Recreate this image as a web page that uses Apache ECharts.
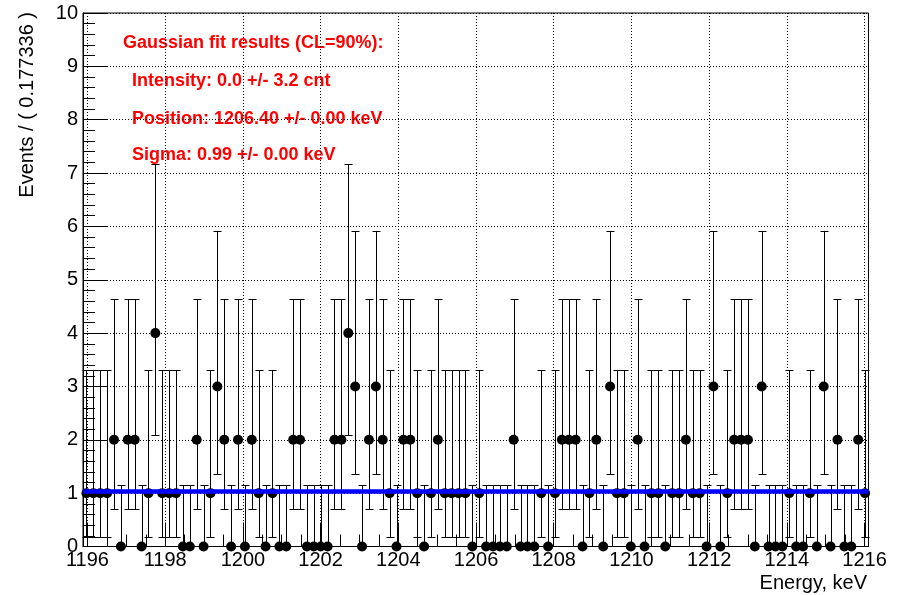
<!DOCTYPE html>
<html>
<head>
<meta charset="utf-8">
<script src="https://cdn.jsdelivr.net/npm/echarts@6/dist/echarts.min.js"></script>
<style>
  html, body { margin: 0; padding: 0; background: #fff; }
  #chart { width: 905px; height: 595px; }
</style>
</head>
<body>
<div id="chart"></div>
<script>
// ---- data ----
const xMin = 1195.885;
const binWidth = 0.177336;
const nBins = 114;
const xMax = xMin + nBins * binWidth;

// counts per bin
const counts = [
  1,1,1,1,2,0,2,2,0,1,
  4,1,1,1,0,0,2,0,1,3,
  2,0,2,0,2,1,0,1,0,0,
  2,2,0,0,0,0,2,2,4,3,
  0,2,3,2,1,0,2,2,1,0,
  1,2,1,1,1,1,0,1,0,0,
  0,0,2,0,0,0,1,0,1,2,
  2,2,0,1,2,0,3,1,1,0,
  2,0,1,1,0,1,1,2,1,1,
  0,3,0,1,2,2,2,0,3,0,
  0,0,1,0,0,1,0,3,0,2,
  0,0,2,1
];

// Poisson (68%) error interval for each count value
const poissonLow  = [0, 0.173, 0.708, 1.367, 2.086];
const poissonHigh = [1.148, 3.300, 4.638, 5.918, 7.163];

// fit curve (flat, intensity 0)
const fitLevel = 1.03;

// axis ticks
const xTickValues = [1196, 1198, 1200, 1202, 1204, 1206, 1208, 1210, 1212, 1214, 1216];
const yTickLabels = ['0','1','2','3','4','5','6','7','8','9','10'];

const infoTitle = 'Gaussian fit results (CL=90%):';
const infoLines = [
  'Intensity: 0.0 +/- 3.2 cnt',
  'Position: 1206.40 +/- 0.00 keV',
  'Sigma: 0.99 +/- 0.00 keV'
];
const xTitle = 'Energy, keV';
const yTitle = 'Events / ( 0.177336 )';

// ---- build ----
const binCenters = counts.map((c, i) => xMin + (i + 0.5) * binWidth);
const points = counts.map((c, i) => [binCenters[i], c]);
const errors = counts.map((c, i) => [binCenters[i], poissonLow[c], poissonHigh[c]]);
const xMinorTicks = [];
for (let v = 1196; v <= 1216.0001; v += 0.5) xMinorTicks.push(Math.round(v * 10) / 10);

const FONT = '"Liberation Sans", Arial, Helvetica, sans-serif';

const chart = echarts.init(document.getElementById('chart'), null, { renderer: 'canvas' });

chart.setOption({
  animation: false,
  backgroundColor: '#ffffff',
  grid: {
    left: 83, top: 13, width: 785.5, height: 533.5,
    show: true, borderColor: '#000', borderWidth: 1, backgroundColor: 'transparent'
  },
  xAxis: [
    {
      type: 'value', min: xMin, max: xMax,
      axisLine: { show: true, onZero: false, lineStyle: { color: '#000', width: 1 } },
      axisTick: { show: true, inside: true, length: 24, customValues: xTickValues,
                  lineStyle: { color: '#000', width: 1 } },
      axisLabel: { show: true, customValues: xTickValues, fontSize: 20, color: '#000',
                   margin: 4, fontFamily: FONT, formatter: v => String(Math.round(v)) },
      splitLine: { show: true, lineStyle: { color: '#000', width: 1, type: [1, 2] } },
      minorTick: { show: false }
    },
    {
      type: 'value', min: xMin, max: xMax, position: 'bottom',
      axisLine: { show: false },
      axisTick: { show: true, inside: true, length: 12, customValues: xMinorTicks,
                  lineStyle: { color: '#000', width: 1 } },
      axisLabel: { show: false },
      splitLine: { show: false }
    }
  ],
  yAxis: {
    type: 'value', min: 0, max: 10, interval: 1,
    axisLine: { show: true, onZero: false, lineStyle: { color: '#000', width: 1 } },
    axisTick: { show: true, inside: true, length: 24, lineStyle: { color: '#000', width: 1 } },
    minorTick: { show: true, splitNumber: 5, length: 12, lineStyle: { color: '#000', width: 1 } },
    axisLabel: { fontSize: 20, color: '#000', margin: 5, fontFamily: FONT,
                 formatter: v => yTickLabels[Math.round(v)] },
    splitLine: { show: true, lineStyle: { color: '#000', width: 1, type: [1, 2] } }
  },
  series: [
    {
      type: 'custom',
      name: 'errors',
      xAxisIndex: 0,
      data: errors,
      z: 3,
      renderItem: function (params, api) {
        const x = api.value(0), lo = api.value(1), hi = api.value(2);
        const pLo = api.coord([x, lo]);
        const pHi = api.coord([x, hi]);
        const px = Math.round(pHi[0]) + 0.5;
        const yHi = Math.round(pHi[1]) + 0.5;
        const yLo = Math.round(pLo[1]) + 0.5;
        const half = 4;
        const st = { stroke: '#000', lineWidth: 1 };
        const children = [
          { type: 'line', shape: { x1: px, y1: yHi, x2: px, y2: yLo }, style: st },
          { type: 'line', shape: { x1: px - half, y1: yHi, x2: px + half, y2: yHi }, style: st }
        ];
        if (lo > 0) {
          children.push({ type: 'line', shape: { x1: px - half, y1: yLo, x2: px + half, y2: yLo }, style: st });
        }
        return { type: 'group', children: children };
      }
    },
    {
      type: 'scatter',
      name: 'data',
      xAxisIndex: 0,
      data: points,
      symbol: 'circle',
      symbolSize: 10,
      itemStyle: { color: '#000', opacity: 1 },
      z: 4
    },
    {
      type: 'line',
      name: 'fit',
      xAxisIndex: 0,
      data: [[xMin, fitLevel], [xMax, fitLevel]],
      symbol: 'none',
      lineStyle: { color: '#0000ff', width: 4.5 },
      z: 5
    }
  ],
  graphic: [
    { type: 'text', x: 123, y: 43, style: { text: infoTitle, fill: '#ff0000', font: 'bold 18px ' + FONT, verticalAlign: 'middle', align: 'left' } },
    { type: 'text', x: 132, y: 81.5, style: { text: infoLines[0], fill: '#ff0000', font: 'bold 18px ' + FONT, verticalAlign: 'middle', align: 'left' } },
    { type: 'text', x: 132, y: 119, style: { text: infoLines[1], fill: '#ff0000', font: 'bold 18px ' + FONT, verticalAlign: 'middle', align: 'left' } },
    { type: 'text', x: 132, y: 155, style: { text: infoLines[2], fill: '#ff0000', font: 'bold 18px ' + FONT, verticalAlign: 'middle', align: 'left' } },
    { type: 'text', x: 867, y: 583, style: { text: xTitle, fill: '#000', font: '20px ' + FONT, verticalAlign: 'middle', align: 'right' } },
    { type: 'text', x: 27, y: 12, rotation: Math.PI / 2, style: { text: yTitle, fill: '#000', font: '20px ' + FONT, verticalAlign: 'middle', align: 'right' } }
  ]
});
</script>
</body>
</html>
